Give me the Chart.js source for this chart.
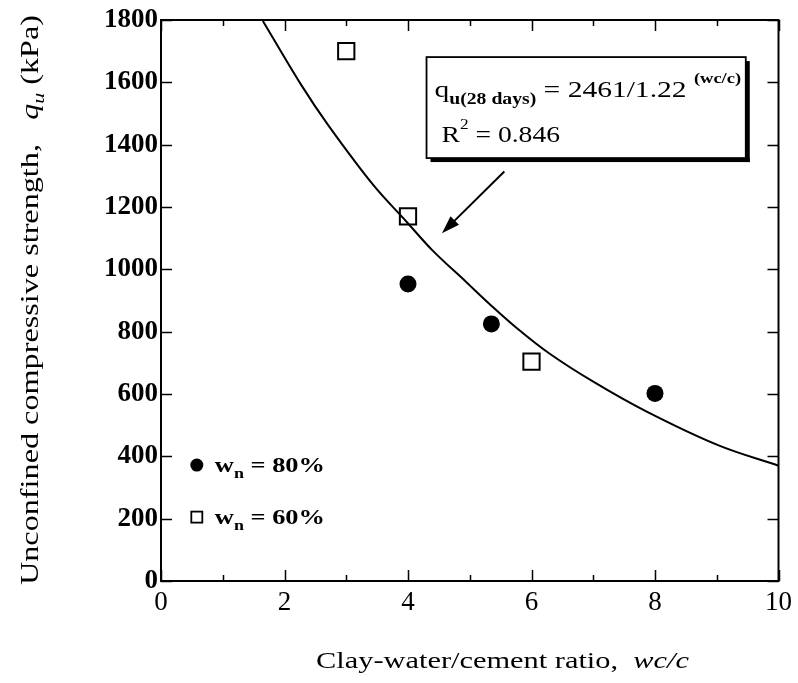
<!DOCTYPE html>
<html>
<head>
<meta charset="utf-8">
<script src="https://cdn.jsdelivr.net/npm/chart.js@4.4.1/dist/chart.umd.min.js"></script>
<style>
  html, body { margin: 0; padding: 0; background: #fff; }
  .preload { font-family: "Liberation Serif"; position: absolute; left: -999px; top: 0; }
</style>
</head>
<body>
<span class="preload">0 <b>1</b> <i>q</i></span>
<canvas id="qu-chart" width="798" height="683"></canvas>
<script>
// values
var wn80_x = [4, 5.35, 8];
var wn80_y = [953, 825, 602];
var wn60_x = [3, 4, 6];
var wn60_y = [1700, 1170, 704];
// fitted curve as drawn in the figure
var fit_x = [1.65, 2.26, 2.71, 3.44, 3.98, 4.40, 4.95, 5.32, 5.76, 6.29, 6.98, 7.85, 9.03, 10];
var fit_y = [1797, 1595, 1462, 1270, 1152, 1060, 958, 889, 812, 730, 642, 545, 435, 370];
var x_ticks = [0, 2, 4, 6, 8, 10];
var y_ticks = [0, 200, 400, 600, 800, 1000, 1200, 1400, 1600, 1800];

var SERIF = '"Liberation Serif", serif';

function toPoints(xs, ys) {
  var pts = [];
  for (var i = 0; i < xs.length; ++i) pts.push({ x: xs[i], y: ys[i] });
  return pts;
}

// draws a list of text runs (font, offset) left to right, stretched by sx
function drawRuns(ctx, runs, x, y, sx) {
  ctx.save();
  ctx.translate(x, y);
  ctx.scale(sx, 1);
  var cx = 0;
  for (var i = 0; i < runs.length; ++i) {
    ctx.font = runs[i].font;
    ctx.fillText(runs[i].t, cx, runs[i].dy || 0);
    cx += ctx.measureText(runs[i].t).width;
  }
  ctx.restore();
  return cx * sx;
}

function runsWidth(ctx, runs) {
  var w = 0;
  for (var i = 0; i < runs.length; ++i) {
    ctx.font = runs[i].font;
    w += ctx.measureText(runs[i].t).width;
  }
  return w;
}

var decorations = {
  id: 'decorations',
  afterDatasetsDraw: function (chart) {
    var ctx = chart.ctx;
    var xs = chart.scales.x, ys = chart.scales.y;
    var a = chart.chartArea;
    ctx.save();
    ctx.strokeStyle = '#000';
    ctx.fillStyle = '#000';
    ctx.textBaseline = 'alphabetic';
    ctx.textAlign = 'left';

    // frame
    ctx.lineWidth = 2;
    ctx.strokeRect(a.left, a.top, a.right - a.left, a.bottom - a.top);

    // inward ticks, all four sides
    ctx.lineWidth = 1.5;
    ctx.beginPath();
    for (var v = 0; v <= 10; v++) {
      var px = Math.round(xs.getPixelForValue(v)) + 0.5;
      var len = (v % 2 == 0) ? 11 : 6;
      ctx.moveTo(px, a.bottom); ctx.lineTo(px, a.bottom - len);
      ctx.moveTo(px, a.top); ctx.lineTo(px, a.top + len);
    }
    for (var i = 0; i < y_ticks.length; ++i) {
      var py = Math.round(ys.getPixelForValue(y_ticks[i])) + 0.5;
      ctx.moveTo(a.left, py); ctx.lineTo(a.left + 11, py);
      ctx.moveTo(a.right, py); ctx.lineTo(a.right - 11, py);
    }
    ctx.stroke();

    // legend inside the plot
    var lx = xs.getPixelForValue(0.58);
    var ly1 = ys.getPixelForValue(372);
    var ly2 = ys.getPixelForValue(205);
    ctx.beginPath();
    ctx.arc(lx, ly1, 6.5, 0, Math.PI * 2);
    ctx.fill();
    ctx.lineWidth = 1.8;
    ctx.strokeRect(lx - 5.5, ly2 - 5.5, 11, 11);
    var legRuns = function (pct) {
      return [
        { t: 'w', font: 'bold 22px ' + SERIF },
        { t: 'n', font: 'bold 15px ' + SERIF, dy: 6 },
        { t: ' = ' + pct, font: 'bold 22px ' + SERIF }
      ];
    };
    drawRuns(ctx, legRuns('80%'), lx + 18, ly1 + 7, 1.2);
    drawRuns(ctx, legRuns('60%'), lx + 18, ly2 + 7, 1.2);

    // equation box with drop shadow
    var bx1 = xs.getPixelForValue(4.3), bx2 = xs.getPixelForValue(9.47);
    var by1 = ys.getPixelForValue(1681), by2 = ys.getPixelForValue(1357);
    ctx.fillRect(bx1 + 4, by2, bx2 - bx1, 4);
    ctx.fillRect(bx2, by1 + 4, 4, by2 - by1);
    ctx.fillStyle = '#fff';
    ctx.fillRect(bx1, by1, bx2 - bx1, by2 - by1);
    ctx.fillStyle = '#000';
    ctx.lineWidth = 1.8;
    ctx.strokeRect(bx1, by1, bx2 - bx1, by2 - by1);
    drawRuns(ctx, [
      { t: 'q', font: '24px ' + SERIF },
      { t: 'u(28 days)', font: 'bold 16px ' + SERIF, dy: 7 },
      { t: ' = 2461/1.22 ', font: '24px ' + SERIF },
      { t: '(wc/c)', font: 'bold 15px ' + SERIF, dy: -14 }
    ], bx1 + 8, by1 + 40, 1.23);
    drawRuns(ctx, [
      { t: 'R', font: '24px ' + SERIF },
      { t: '2', font: '15px ' + SERIF, dy: -13 },
      { t: ' = 0.846', font: '24px ' + SERIF }
    ], bx1 + 15, by1 + 85, 1.15);

    // arrow pointing at the curve
    var tx = xs.getPixelForValue(5.56), ty = ys.getPixelForValue(1314);
    var hx = xs.getPixelForValue(4.55), hy = ys.getPixelForValue(1116);
    var ang = Math.atan2(hy - ty, hx - tx);
    ctx.lineWidth = 2;
    ctx.beginPath();
    ctx.moveTo(tx, ty);
    ctx.lineTo(hx - 10 * Math.cos(ang), hy - 10 * Math.sin(ang));
    ctx.stroke();
    ctx.beginPath();
    ctx.moveTo(hx, hy);
    ctx.lineTo(hx - 18 * Math.cos(ang) + 6 * Math.sin(ang), hy - 18 * Math.sin(ang) - 6 * Math.cos(ang));
    ctx.lineTo(hx - 18 * Math.cos(ang) - 6 * Math.sin(ang), hy - 18 * Math.sin(ang) + 6 * Math.cos(ang));
    ctx.closePath();
    ctx.fill();

    // axis titles
    var xt = [
      { t: 'Clay-water/cement ratio,  ', font: '24px ' + SERIF },
      { t: 'wc/c', font: 'italic 24px ' + SERIF }
    ];
    drawRuns(ctx, xt, 316, 668, 373 / runsWidth(ctx, xt));

    var yt = [
      { t: 'Unconfined compressive strength,   ', font: '25px ' + SERIF },
      { t: 'q', font: 'italic 25px ' + SERIF },
      { t: 'u', font: 'italic 17px ' + SERIF, dy: 6 },
      { t: ' (kPa)', font: '25px ' + SERIF }
    ];
    var yw = runsWidth(ctx, yt);
    var ysx = 570 / yw;
    ctx.save();
    ctx.translate(38, 300);
    ctx.rotate(-Math.PI / 2);
    drawRuns(ctx, yt, -yw * ysx / 2, 0, ysx);
    ctx.restore();

    ctx.restore();
  }
};

function plainLabel(value) { return String(value); }

function makeChart() {
  var ctx = document.getElementById('qu-chart').getContext('2d');
  var chart = new Chart(ctx, {
    type: 'scatter',
    data: {
      datasets: [
        {
          label: 'fit',
          type: 'line',
          data: toPoints(fit_x, fit_y),
          borderColor: '#000',
          borderWidth: 2,
          pointRadius: 0,
          tension: 0.35,
          fill: false
        },
        {
          label: 'wn = 80%',
          data: toPoints(wn80_x, wn80_y),
          pointStyle: 'circle',
          pointRadius: 8.5,
          backgroundColor: '#000',
          borderColor: '#000',
          borderWidth: 0
        },
        {
          label: 'wn = 60%',
          data: toPoints(wn60_x, wn60_y),
          pointStyle: 'rect',
          pointRadius: 11.5,
          backgroundColor: '#fff',
          borderColor: '#000',
          borderWidth: 2
        }
      ]
    },
    options: {
      responsive: false,
      animation: false,
      layout: { padding: { top: 20, right: 18, left: 0, bottom: 0 } },
      plugins: {
        legend: { display: false },
        tooltip: { enabled: false }
      },
      scales: {
        x: {
          type: 'linear',
          min: 0,
          max: 10,
          afterBuildTicks: function (s) { s.ticks = x_ticks.map(function (v) { return { value: v }; }); },
          afterFit: function (s) { s.height = 102; },
          grid: { display: false, drawTicks: false },
          border: { display: false },
          ticks: { color: '#000', padding: 6, maxRotation: 0, callback: plainLabel, font: { family: SERIF, size: 27 } }
        },
        y: {
          type: 'linear',
          min: 0,
          max: 1800,
          afterBuildTicks: function (s) { s.ticks = y_ticks.map(function (v) { return { value: v }; }); },
          afterFit: function (s) { s.width = 161; },
          grid: { display: false, drawTicks: false },
          border: { display: false },
          ticks: { color: '#000', padding: 3, callback: plainLabel, font: { family: SERIF, size: 27, weight: 'bold' } }
        }
      }
    },
    plugins: [decorations]
  });
}

// make sure the serif faces are ready before the canvas draws text
Promise.all([
  document.fonts.load('27px "Liberation Serif"'),
  document.fonts.load('bold 27px "Liberation Serif"'),
  document.fonts.load('italic 25px "Liberation Serif"')
]).then(makeChart, makeChart);
</script>
</body>
</html>
